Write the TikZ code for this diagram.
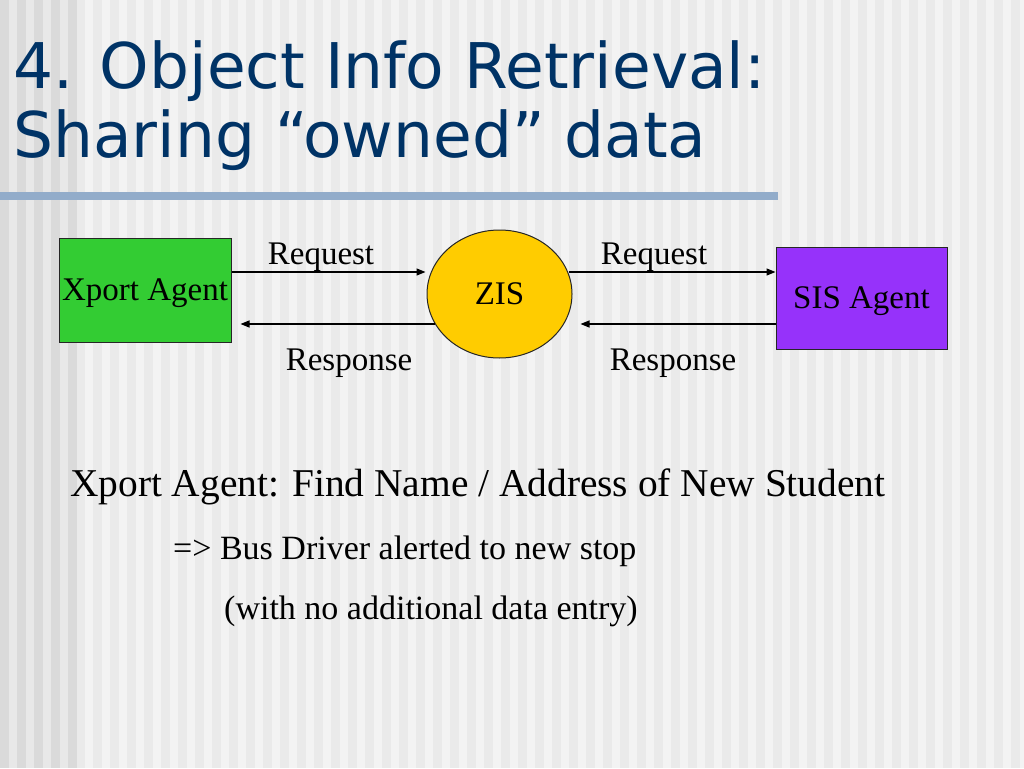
\documentclass[tikz,border=0pt]{standalone}
\usepackage{fontspec}
\setmainfont{Liberation Serif}
\newfontfamily\titlefont{DejaVu Sans}
\usetikzlibrary{arrows.meta,shapes.geometric}
\definecolor{titleblue}{RGB}{0,51,102}
\definecolor{rulecol}{RGB}{146,172,202}
\definecolor{bgA}{RGB}{243,243,243}
\definecolor{bgB}{RGB}{234,234,234}
\definecolor{leftA}{RGB}{232,232,232}
\definecolor{leftB}{RGB}{218,218,218}
\definecolor{xgreen}{RGB}{51,204,51}
\definecolor{zisyellow}{RGB}{255,204,0}
\definecolor{sispurple}{RGB}{150,50,250}
\tikzset{
  agentbox/.style={rectangle, draw=black!85, line width=1pt, inner sep=0pt,
    font=\fontsize{33}{33}\selectfont, text depth=0pt},
  hubshape/.style={ellipse, draw=black!85, line width=1pt, inner sep=0pt,
    font=\fontsize{33}{33}\selectfont, text depth=0pt},
  conn/.style={line width=1.3pt, -{Triangle[length=9pt,width=7pt]}},
  lbl/.style={font=\fontsize{33}{33}\selectfont, inner sep=0pt, anchor=base},
  titletext/.style={font=\titlefont\fontsize{63}{63}\selectfont, text=titleblue,
    inner sep=0pt, anchor=base west},
  bodyA/.style={font=\fontsize{39.4}{39.4}\selectfont, inner sep=0pt, anchor=base west},
  bodyB/.style={font=\fontsize{34}{34}\selectfont, inner sep=0pt, anchor=base west}
}
\begin{document}
\begin{tikzpicture}[x=1pt,y=-1pt]
\useasboundingbox (0,0) rectangle (1024,768);
% background stripes
\fill[bgA] (0,0) rectangle (1024,768);
\foreach \i in {0,...,60} { \fill[bgB] ({17*\i+8},0) rectangle ++(8.5,768); }
\fill[leftA] (0,0) rectangle (77,768);
\foreach \i in {0,...,4} { \fill[leftB] ({17*\i},0) rectangle ++(8.5,768); }
% title
\node[titletext] (t1) at (13,88) {4. Object Info Retrieval:};
\node[titletext] (t2) at (13,157) {Sharing “owned” data};
\fill[rulecol] (0,192) rectangle (778,200);
% diagram
\node[agentbox, fill=xgreen, minimum width=172pt, minimum height=104pt] (xport) at (145,290) {Xport Agent};
\node[hubshape, fill=zisyellow, minimum width=145pt, minimum height=128pt] (zis) at (499.5,294) {ZIS};
\node[agentbox, fill=sispurple, minimum width=171pt, minimum height=102pt] (sis) at (861.5,298) {SIS Agent};
\draw[conn] ([yshift=18pt]xport.east) -- ([xshift=-1pt,yshift=22pt]zis.west);
\draw[conn] ([xshift=8pt,yshift=-30pt]zis.west) -- ([xshift=9pt,yshift=-34pt]xport.east);
\draw[conn] ([xshift=-4pt,yshift=22pt]zis.east) -- ([yshift=26pt]sis.west);
\draw[conn] ([yshift=-26pt]sis.west) -- ([xshift=8pt,yshift=-30pt]zis.east);
\node[lbl] (req1) at (321,264) {Request};
\node[lbl] (req2) at (654,264) {Request};
\node[lbl] (res1) at (349,370) {Response};
\node[lbl] (res2) at (673,370) {Response};
% text
\node[bodyA] (l1) at (70,496) {Xport Agent: Find Name / Address of New Student};
\node[bodyB] (l2) at (173,559) {=> Bus Driver alerted to new stop};
\node[bodyB] (l3) at (224,619) {(with no additional data entry)};
\end{tikzpicture}
\end{document}
